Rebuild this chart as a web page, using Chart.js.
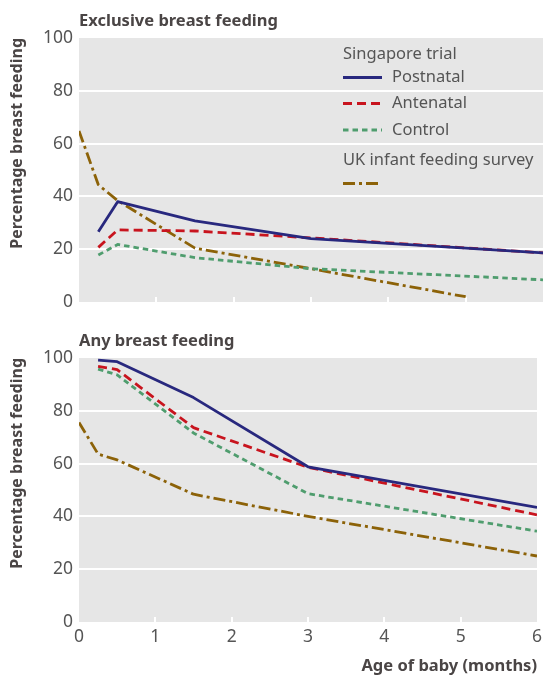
<!DOCTYPE html>
<html>
<head>
<meta charset="utf-8">
<script src="https://cdn.jsdelivr.net/npm/chart.js@4"></script>
<style>
  html, body { margin: 0; padding: 0; background: #fff; }
  #wrap { position: relative; width: 547px; height: 675px; }
  .box { position: absolute; left: 0; width: 547px; }
  #boxTop { top: 0; height: 330px; }
  #boxBot { top: 330px; height: 345px; }
</style>
</head>
<body>
<div id="wrap">
  <div class="box" id="boxTop"><canvas id="graficoExcl"></canvas></div>
  <div class="box" id="boxBot"><canvas id="graficoAny"></canvas></div>
</div>
<script>
// Dados (meses x percentagem)
const mesesTrial = [0.25, 0.5, 1.5, 3, 6];
const mesesUK = [0, 0.25, 0.5, 1.5, 3, 5];
const mesesUKAny = [0, 0.25, 0.5, 1.5, 3, 6];
const xTicks = [0, 1, 2, 3, 4, 5, 6];
const yTicks = [0, 20, 40, 60, 80, 100];

// Exclusive breast feeding
const exclPostnatal = [26.6, 38, 30.7, 24, 18.6];
const exclAntenatal = [20.7, 27.3, 26.9, 24.3, 18.6];
const exclControl = [17.8, 21.8, 16.8, 12.6, 8.4];
const exclUK = [64.8, 44.4, 38.4, 20.4, 12.6, 2.0];

// Any breast feeding
const anyPostnatal = [99.2, 98.6, 85, 58.8, 43.4];
const anyAntenatal = [96.8, 95.6, 73.6, 58.6, 40.6];
const anyControl = [95.8, 93.6, 71.6, 48.6, 34.4];
const anyUK = [75.6, 63.6, 61.4, 48.4, 40, 25];

const fonte = '"Noto Sans", "Open Sans", sans-serif';
const corTexto = '#555555';
const corTitulo = '#4a4545';

function pts(xs, ys) {
  return xs.map((x, i) => ({ x: x, y: ys[i] }));
}

const estilos = {
  postnatal: { label: 'Postnatal', borderColor: '#28287e', borderWidth: 2.8, borderDash: [] },
  antenatal: { label: 'Antenatal', borderColor: '#c8141e', borderWidth: 2.8, borderDash: [9, 5] },
  control: { label: 'Control', borderColor: '#4f9d6e', borderWidth: 2.8, borderDash: [5.5, 4] },
  uk: { label: 'UK infant feeding survey', borderColor: '#8c6208', borderWidth: 2.8, borderDash: [12, 4, 3, 4] },
};

function ds(est, data) {
  return Object.assign({}, est, {
    data: data,
    pointRadius: 0,
    fill: false,
    tension: 0,
    borderCapStyle: 'butt',
    borderJoinStyle: 'round',
  });
}

// fundo cinza da área do gráfico
const fundoPlugin = {
  id: 'fundo',
  beforeDraw(chart) {
    const { ctx, chartArea: a } = chart;
    ctx.save();
    ctx.fillStyle = '#e6e6e6';
    ctx.fillRect(a.left, a.top, a.right - a.left, a.bottom - a.top);
    // pequenas marcas brancas no eixo x
    ctx.strokeStyle = '#ffffff';
    ctx.lineWidth = 2;
    const sx = chart.scales.x;
    xTicks.forEach(t => {
      if (t === 0 || t === 6) return;
      const px = Math.round(sx.getPixelForValue(t));
      ctx.beginPath();
      ctx.moveTo(px, a.bottom);
      ctx.lineTo(px, a.bottom - 5);
      ctx.stroke();
    });
    ctx.restore();
  }
};

const tituloPlugin = {
  id: 'tituloPainel',
  afterDraw(chart, args, opts) {
    const { ctx, chartArea: a } = chart;
    ctx.save();
    ctx.font = 'bold 16.5px ' + fonte;
    ctx.fillStyle = corTitulo;
    ctx.textBaseline = 'alphabetic';
    ctx.textAlign = 'left';
    ctx.fillText(opts.text, a.left, a.top - 12);
    ctx.restore();
  }
};

const legendaPlugin = {
  id: 'legendaCustom',
  afterDatasetsDraw(chart) {
    const { ctx, chartArea: a } = chart;
    const x0 = a.left + 264;
    const ds = chart.data.datasets;
    ctx.save();
    ctx.font = '16.5px ' + fonte;
    ctx.fillStyle = corTexto;
    ctx.textBaseline = 'middle';
    ctx.textAlign = 'left';
    ctx.fillText('Singapore trial', x0, a.top + 16);
    const linha = (d, y) => {
      ctx.save();
      ctx.strokeStyle = d.borderColor;
      ctx.lineWidth = d.borderWidth;
      ctx.setLineDash(d.borderDash);
      ctx.beginPath();
      ctx.moveTo(x0, y);
      ctx.lineTo(x0 + 39, y);
      ctx.stroke();
      ctx.restore();
    };
    const linhas = [a.top + 39.5, a.top + 65.5, a.top + 92];
    for (let i = 0; i < 3; i++) {
      linha(ds[i], linhas[i]);
      ctx.fillText(ds[i].label, x0 + 49, linhas[i]);
    }
    ctx.fillText(ds[3].label, x0, a.top + 122);
    linha(ds[3], a.top + 145.5);
    ctx.restore();
  }
};

function makeConfig(datasets, mostraX, titulo, xHeight) {
  return {
    type: 'line',
    data: { datasets: datasets },
    options: {
      responsive: true,
      maintainAspectRatio: false,
      animation: false,
      layout: { padding: { top: mostraX ? 28 : 38, right: 4, left: 0, bottom: 0 } },
      plugins: {
        legend: { display: false },
        tooltip: { enabled: false },
        tituloPainel: { text: titulo },
      },
      scales: {
        x: {
          type: 'linear',
          min: 0,
          max: 6,
          afterBuildTicks(s) { s.ticks = xTicks.map(v => ({ value: v })); },
          afterFit(s) { s.height = xHeight; },
          grid: { display: false, drawTicks: false },
          border: { display: false },
          ticks: {
            display: mostraX,
            color: corTexto,
            font: { family: fonte, size: 17.5 },
            padding: 5,
            maxRotation: 0,
          },
          title: {
            display: mostraX,
            text: 'Age of baby (months)',
            align: 'end',
            color: corTitulo,
            font: { family: fonte, size: 16.5, weight: 'bold', lineHeight: 1 },
            padding: { top: 0, bottom: 0 },
          },
        },
        y: {
          min: 0,
          max: 100,
          afterBuildTicks(s) { s.ticks = yTicks.map(v => ({ value: v })); },
          afterFit(s) { s.width = 79; },
          grid: {
            color: c => (c.tick && (c.tick.value === 0 || c.tick.value === 100)) ? 'rgba(0,0,0,0)' : '#ffffff',
            lineWidth: 2,
            drawTicks: false,
          },
          border: { display: false },
          ticks: {
            color: corTexto,
            font: { family: fonte, size: 17.5 },
            padding: 6,
          },
          title: {
            display: true,
            text: 'Percentage breast feeding',
            align: 'end',
            color: corTitulo,
            font: { family: fonte, size: 16, weight: 'bold', lineHeight: 1.2 },
            padding: { top: 8, bottom: 0 },
          },
        },
      },
    },
    plugins: mostraX ? [fundoPlugin, tituloPlugin] : [fundoPlugin, tituloPlugin, legendaPlugin],
  };
}

const dadosExcl = [
  ds(estilos.postnatal, pts(mesesTrial, exclPostnatal)),
  ds(estilos.antenatal, pts(mesesTrial, exclAntenatal)),
  ds(estilos.control, pts(mesesTrial, exclControl)),
  ds(estilos.uk, pts(mesesUK, exclUK)),
];

const dadosAny = [
  ds(estilos.postnatal, pts(mesesTrial, anyPostnatal)),
  ds(estilos.antenatal, pts(mesesTrial, anyAntenatal)),
  ds(estilos.control, pts(mesesTrial, anyControl)),
  ds(estilos.uk, pts(mesesUKAny, anyUK)),
];

const graficoExcl = new Chart(
  document.getElementById('graficoExcl'),
  makeConfig(dadosExcl, false, 'Exclusive breast feeding', 28)
);

const graficoAny = new Chart(
  document.getElementById('graficoAny'),
  makeConfig(dadosAny, true, 'Any breast feeding', 53)
);
</script>
</body>
</html>
